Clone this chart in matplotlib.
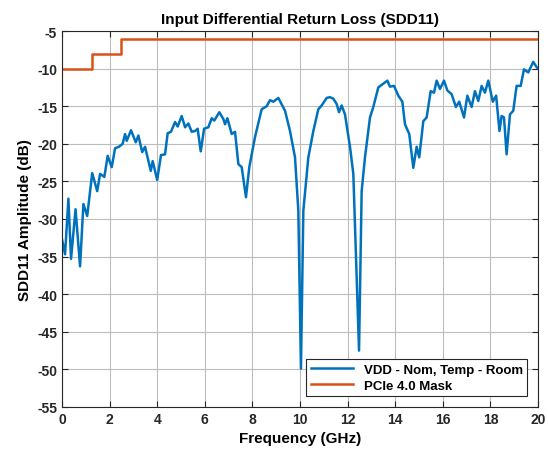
import matplotlib
matplotlib.use("Agg")
import matplotlib.pyplot as plt

freq_ghz = [0.0, 0.13, 0.27, 0.38, 0.57, 0.76, 0.9, 1.06, 1.27, 1.48, 1.6, 1.78,
            1.92, 2.09, 2.23, 2.39, 2.55, 2.65, 2.72, 2.9, 3.1, 3.21, 3.37, 3.49,
            3.73, 3.81, 4.0, 4.16, 4.33, 4.44, 4.58, 4.75, 4.86, 5.03, 5.17, 5.31,
            5.45, 5.59, 5.7, 5.83, 5.97, 6.15, 6.29, 6.4, 6.61, 6.78, 6.85, 6.95,
            7.13, 7.27, 7.41, 7.55, 7.73, 7.87, 8.11, 8.39, 8.6, 8.74, 8.88, 9.09,
            9.37, 9.58, 9.79, 9.93, 10.04, 10.14, 10.35, 10.56, 10.77, 10.91, 11.12,
            11.26, 11.4, 11.54, 11.64, 11.75, 11.89, 12.1, 12.24, 12.48, 12.59,
            12.73, 12.94, 13.08, 13.29, 13.5, 13.67, 13.78, 13.95, 14.13, 14.3,
            14.41, 14.59, 14.76, 14.9, 15.01, 15.18, 15.32, 15.49, 15.63, 15.74,
            15.88, 16.05, 16.19, 16.37, 16.55, 16.69, 16.89, 17.03, 17.21, 17.35,
            17.49, 17.63, 17.77, 17.91, 18.0, 18.1, 18.24, 18.38, 18.47, 18.57,
            18.68, 18.82, 18.96, 19.1, 19.27, 19.41, 19.59, 19.8, 19.94, 20.0]
sdd11_db = [-32.7, -34.7, -27.3, -35.3, -28.7, -36.3, -28.0, -29.6, -23.9, -26.3,
            -24.0, -24.4, -21.6, -23.1, -20.6, -20.4, -20.0, -18.7, -19.6, -18.2,
            -19.8, -18.9, -21.1, -20.4, -23.6, -22.3, -24.8, -21.5, -21.4, -18.6,
            -18.4, -17.1, -17.7, -16.3, -17.8, -17.3, -18.4, -18.3, -18.0, -21.0,
            -18.0, -17.8, -16.6, -16.9, -15.8, -16.7, -17.4, -16.6, -18.7, -18.4,
            -22.7, -23.1, -27.1, -23.1, -19.1, -15.4, -15.0, -14.2, -14.4, -13.9,
            -15.6, -18.3, -21.8, -28.9, -49.9, -28.9, -21.8, -18.3, -15.4, -14.9,
            -13.9, -13.8, -14.0, -14.7, -15.8, -14.9, -16.1, -20.4, -24.0, -47.5,
            -26.3, -21.8, -16.5, -15.1, -12.5, -12.0, -11.6, -12.4, -12.3, -13.6,
            -14.4, -17.4, -18.7, -23.2, -20.4, -21.8, -17.0, -16.5, -13.0, -13.2,
            -11.6, -12.7, -11.6, -12.9, -13.4, -15.1, -14.4, -16.5, -13.6, -15.1,
            -13.0, -14.3, -12.3, -13.2, -11.6, -12.9, -14.4, -13.6, -18.3, -16.3,
            -16.5, -21.4, -16.1, -15.6, -12.3, -12.3, -10.1, -10.5, -9.1, -9.8, -10.0]

# PCIe 4.0 mask (step)
mask_freq = [0.0, 1.25, 1.25, 2.5, 2.5, 20.0]
mask_db = [-10, -10, -8, -8, -6, -6]

plt.rcParams["font.family"] = ["Liberation Sans", "DejaVu Sans"]
plt.rcParams["font.weight"] = "bold"
plt.rcParams["axes.unicode_minus"] = False

fig = plt.figure(figsize=(5.48, 4.56), dpi=100)
ax = fig.add_axes([0.1131, 0.1053, 0.8687, 0.8245])

ax.plot(freq_ghz, sdd11_db, color="#0072BD", lw=1.8, label="VDD - Nom, Temp - Room")
ax.plot(mask_freq, mask_db, color="#D95319", lw=1.8, label="PCIe 4.0 Mask")

ax.set_xlim(0, 20)
ax.set_ylim(-55, -5)
ax.set_xticks(range(0, 21, 2))
ax.set_yticks(range(-55, -4, 5))
ax.grid(True, color="#bdbdbd", lw=0.8)
ax.set_axisbelow(True)
ax.tick_params(direction="in", top=True, right=True, labelsize=10, length=4,
               color="#262626", labelcolor="#262626")
for sp in ax.spines.values():
  sp.set_color("#262626")
  sp.set_linewidth(0.8)

ax.set_title("Input Differential Return Loss (SDD11)", fontsize=11, fontweight="bold")
ax.set_xlabel("Frequency (GHz)", fontsize=11, fontweight="bold")
ax.set_ylabel("SDD11 Amplitude (dB)", fontsize=11, fontweight="bold")

leg = ax.legend(loc="lower right", fontsize=9.5, fancybox=False, framealpha=1,
                edgecolor="#262626", handlelength=3.2, borderaxespad=0.8,
                labelspacing=0.3, borderpad=0.35)
leg.get_frame().set_linewidth(0.8)

plt.savefig("out.png", dpi=100)
